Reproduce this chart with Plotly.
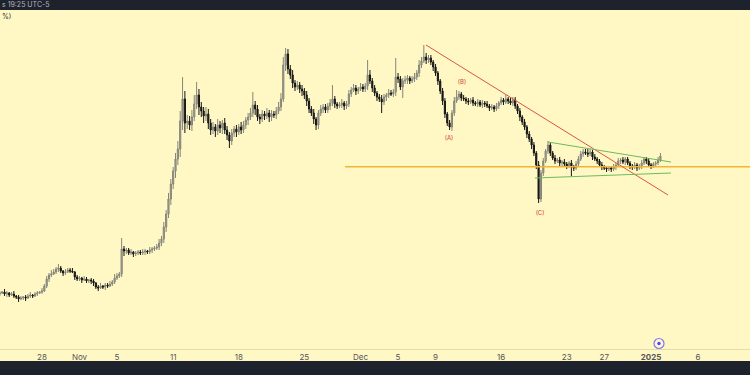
import plotly.graph_objects as go
import pandas as pd

# ---------------- data (6-hour candles, price in chart units) ----------------
start_time = "2024-10-23 12:00"
first_open = 55

close = [
    56, 57, 55, 56, 54, 55, 53, 52, 50, 51,
    52, 51, 53, 54, 53, 55, 56, 57, 58, 63,
    70, 74, 75, 77, 80, 81, 78, 76, 77, 79,
    78, 77, 72, 70, 71, 69, 70, 68, 69, 68,
    66, 62, 61, 63, 62, 64, 63, 65, 67, 71,
    73, 75, 100, 98, 99, 96, 97, 95, 96, 97,
    96, 97, 98, 97, 99, 100, 101, 102, 106, 110,
    122, 135, 150, 165, 178, 190, 200, 228, 250, 226,
    228, 224, 232, 245, 254, 242, 238, 233, 235, 226,
    219, 222, 218, 224, 221, 226, 219, 214, 208, 216,
    220, 217, 222, 219, 224, 229, 232, 236, 244, 240,
    232, 230, 235, 233, 236, 232, 235, 234, 238, 242,
    250, 284, 295, 280, 274, 266, 262, 264, 260, 258,
    254, 248, 240, 236, 230, 224, 236, 240, 242, 239,
    243, 246, 250, 245, 243, 244, 246, 243, 245, 255,
    259, 261, 258, 260, 262, 260, 263, 274, 268, 261,
    256, 252, 250, 247, 252, 254, 256, 255, 257, 272,
    270, 262, 268, 269, 271, 268, 270, 272, 276, 284,
    288, 292, 289, 291, 287, 282, 276, 268, 258, 248,
    235, 226, 222, 236, 248, 252, 255, 251, 250, 248,
    247, 249, 246, 245, 247, 244, 246, 245, 243, 241,
    242, 240, 243, 246, 249, 247, 250, 248, 246, 249,
    243, 238, 232, 227, 222, 215, 210, 204, 196, 184,
    150, 176, 188, 198, 204, 196, 191, 188, 189, 186,
    187, 185, 183, 186, 182, 181, 185, 190, 195, 197,
    196, 195, 197, 192, 190, 188, 184, 182, 181, 180,
    181, 180, 182, 184, 188, 189, 187, 190, 186, 183,
    182, 184, 181, 183, 186, 190, 188, 184, 183, 185, 186, 189, 193,
]

upper_wick = [
    2, 1, 3, 2, 1, 2, 3, 1, 2, 2,
    1, 2, 2, 3, 1, 2, 2, 1, 3, 2,
    3, 2, 4, 3, 2, 4, 2, 1, 3, 2,
    2, 3, 1, 2, 2, 1, 3, 2, 1, 2,
    2, 1, 2, 3, 1, 2, 2, 3, 2, 4,
    3, 2, 11, 3, 2, 2, 3, 1, 2, 2,
    2, 3, 2, 1, 3, 2, 2, 3, 4, 3,
    5, 4, 6, 5, 4, 6, 8, 10, 22, 8,
    6, 5, 7, 9, 13, 6, 5, 4, 7, 5,
    4, 5, 3, 6, 4, 3, 5, 4, 3, 4,
    3, 4, 3, 5, 4, 3, 4, 5, 13, 4,
    4, 3, 4, 3, 5, 3, 4, 3, 4, 5,
    6, 8, 6, 5, 4, 5, 3, 4, 3, 4,
    3, 4, 3, 3, 4, 2, 3, 4, 3, 3,
    3, 4, 14, 3, 2, 3, 4, 2, 3, 4,
    3, 4, 3, 2, 4, 3, 3, 15, 5, 3,
    3, 2, 3, 4, 3, 2, 4, 3, 3, 19,
    4, 3, 3, 4, 3, 2, 3, 4, 3, 5,
    4, 12, 4, 3, 3, 2, 3, 2, 2, 3,
    3, 2, 3, 3, 4, 7, 3, 2, 3, 2,
    3, 2, 3, 2, 3, 2, 3, 2, 3, 2,
    3, 2, 3, 2, 3, 2, 4, 2, 3, 3,
    3, 2, 3, 2, 3, 2, 3, 2, 3, 2,
    4, 3, 3, 2, 4, 3, 2, 3, 2, 3,
    2, 3, 2, 2, 3, 2, 3, 3, 3, 3,
    3, 4, 3, 2, 3, 2, 2, 3, 2, 2,
    2, 2, 3, 2, 3, 2, 3, 2, 2, 2,
    2, 3, 2, 2, 3, 2, 2, 3, 2, 2, 2, 3, 3,
]

lower_wick = [
    2, 1, 2, 3, 2, 1, 2, 2, 3, 1,
    2, 3, 1, 2, 2, 1, 2, 1, 2, 1,
    2, 3, 2, 1, 2, 3, 2, 3, 2, 1,
    2, 1, 3, 2, 2, 3, 1, 2, 2, 3,
    3, 2, 3, 1, 2, 3, 2, 1, 2, 2,
    2, 2, 3, 5, 3, 2, 2, 3, 2, 2,
    2, 2, 3, 2, 2, 3, 2, 2, 3, 3,
    4, 5, 4, 6, 5, 7, 6, 8, 9, 10,
    6, 5, 6, 4, 5, 8, 6, 7, 5, 6,
    5, 4, 6, 4, 5, 6, 4, 5, 7, 4,
    4, 5, 3, 4, 3, 4, 5, 3, 4, 6,
    4, 5, 3, 4, 3, 5, 4, 3, 4, 3,
    4, 3, 6, 5, 4, 5, 4, 3, 4, 5,
    4, 5, 4, 3, 5, 5, 4, 3, 4, 3,
    3, 4, 3, 4, 3, 2, 3, 4, 3, 3,
    3, 2, 4, 3, 2, 3, 3, 4, 3, 4,
    3, 4, 3, 11, 3, 4, 3, 2, 3, 4,
    4, 3, 11, 3, 4, 3, 2, 3, 3, 4,
    3, 2, 4, 3, 3, 4, 3, 4, 3, 4,
    4, 3, 3, 4, 3, 2, 3, 3, 2, 3,
    3, 2, 3, 2, 3, 2, 3, 3, 2, 3,
    2, 3, 2, 3, 2, 3, 2, 3, 2, 3,
    3, 3, 4, 3, 3, 4, 3, 4, 3, 4,
    4, 3, 3, 2, 3, 3, 2, 3, 2, 3,
    3, 2, 3, 2, 9, 3, 2, 3, 2, 3,
    2, 3, 2, 3, 2, 3, 2, 3, 2, 3,
    2, 3, 2, 3, 2, 3, 2, 3, 2, 3,
    3, 2, 3, 2, 3, 2, 3, 2, 3, 2, 3, 2, 2,
]

# drawings (date, price)
red_trend_dates = ["2024-12-07 23:30", "2025-01-02 19:30"]
red_trend_prices = [304, 154]
green_upper_dates = ["2024-12-21 00:00", "2025-01-03 03:00"]
green_upper_prices = [207, 187]
green_lower_dates = ["2024-12-19 14:40", "2025-01-03 03:00"]
green_lower_prices = [171, 176]
level_dates = ["2024-11-29 08:10", "2025-01-20 00:00"]
level_price = 182.3
wave_labels = ["(A)", "(B)", "(C)"]
wave_dates = ["2024-12-10 10:30", "2024-12-11 19:40", "2024-12-20 03:40"]
wave_prices = [211, 267, 136]

tick_dates = ["2024-10-28", "2024-11-01", "2024-11-05", "2024-11-11", "2024-11-18",
              "2024-11-25", "2024-12-01", "2024-12-05", "2024-12-09", "2024-12-16",
              "2024-12-23", "2024-12-27", "2025-01-01", "2025-01-06"]
tick_labels = ["28", "Nov", "5", "11", "18", "25", "Dec", "5", "9", "16", "23", "27",
               "<b>2025</b>", "6"]

# ---------------- build ----------------
times = pd.date_range(start=start_time, periods=len(close), freq="6h")
opens = [first_open] + close[:-1]
highs = [max(o, c) + u for o, c, u in zip(opens, close, upper_wick)]
lows = [min(o, c) - l for o, c, l in zip(opens, close, lower_wick)]

BG = "#fff8c5"
DARK = "#1e222d"

fig = go.Figure()
fig.add_trace(go.Candlestick(
    x=times, open=opens, high=highs, low=lows, close=close,
    increasing=dict(line=dict(color="#85857a", width=1), fillcolor="#a3a396"),
    decreasing=dict(line=dict(color="#161616", width=1), fillcolor="#161616"),
    showlegend=False, hoverinfo="skip",
))

fig.add_trace(go.Scatter(x=pd.to_datetime(level_dates), y=[level_price, level_price],
                         mode="lines", line=dict(color="#f1b534", width=1.6),
                         showlegend=False, hoverinfo="skip"))
fig.add_trace(go.Scatter(x=pd.to_datetime(red_trend_dates), y=red_trend_prices,
                         mode="lines", line=dict(color="#d9573f", width=1),
                         showlegend=False, hoverinfo="skip"))
fig.add_trace(go.Scatter(x=pd.to_datetime(green_upper_dates), y=green_upper_prices,
                         mode="lines", line=dict(color="#6dbb5e", width=1),
                         showlegend=False, hoverinfo="skip"))
fig.add_trace(go.Scatter(x=pd.to_datetime(green_lower_dates), y=green_lower_prices,
                         mode="lines", line=dict(color="#6dbb5e", width=1),
                         showlegend=False, hoverinfo="skip"))
fig.add_trace(go.Scatter(x=pd.to_datetime(wave_dates), y=wave_prices, mode="text",
                         text=wave_labels, textfont=dict(size=6, color="#d0453a", family="Inter"),
                         showlegend=False, hoverinfo="skip"))

H_PLOT = 339.0
shapes = [
    # top toolbar
    dict(type="rect", xref="paper", yref="paper", x0=-0.01, x1=1.01, y0=1.0, y1=1.06,
         fillcolor=DARK, line=dict(width=0), layer="above"),
    # bottom toolbar
    dict(type="rect", xref="paper", yref="paper", x0=-0.01, x1=1.01,
         y0=-(361 - 349) / H_PLOT, y1=-0.12, fillcolor=DARK, line=dict(width=0), layer="above"),
    # scroll-to-realtime button
    dict(type="circle", xref="paper", yref="paper",
         x0=654 / 750, x1=664 / 750, y0=(349 - 348.5) / H_PLOT, y1=(349 - 338.5) / H_PLOT,
         fillcolor="#fbf7e4", line=dict(color="#8877e0", width=1.2), layer="above"),
    dict(type="circle", xref="paper", yref="paper",
         x0=657.3 / 750, x1=660.7 / 750, y0=(349 - 345.2) / H_PLOT, y1=(349 - 341.8) / H_PLOT,
         fillcolor="#5a48c8", line=dict(width=0), layer="above"),
]

annotations = [
    dict(xref="paper", yref="paper", x=0, y=1 + 5 / H_PLOT, xanchor="left", yanchor="middle",
         text="s 19:25 UTC-5", showarrow=False, font=dict(size=7, color="#b2b5be", family="Inter")),
    dict(xref="paper", yref="paper", x=0, y=(349 - 17) / H_PLOT, xanchor="left", yanchor="middle",
         text="%)", showarrow=False, font=dict(size=7, color="#333333", family="Inter")),
]

fig.update_layout(
    width=750, height=375,
    margin=dict(l=0, r=0, t=10, b=26),
    paper_bgcolor=BG, plot_bgcolor=BG,
    shapes=shapes, annotations=annotations,
    showlegend=False,
    xaxis=dict(
        type="date",
        range=["2024-10-23 12:25", "2025-01-11 13:27"],
        tickvals=pd.to_datetime(tick_dates), ticktext=tick_labels,
        showgrid=False, zeroline=False, showline=True, linecolor="#e4dcae", linewidth=1,
        ticks="", tickfont=dict(size=8, color="#555555", family="Inter"),
        rangeslider=dict(visible=False), fixedrange=True,
    ),
    yaxis=dict(range=[0, 339], showgrid=False, zeroline=False, showticklabels=False,
               showline=False, fixedrange=True),
)

fig.write_html(
    "out.html",
    config={"displayModeBar": False},
    post_script="document.body.style.margin='0';document.body.style.overflow='hidden';"
                "document.body.style.background='" + BG + "';",
)
